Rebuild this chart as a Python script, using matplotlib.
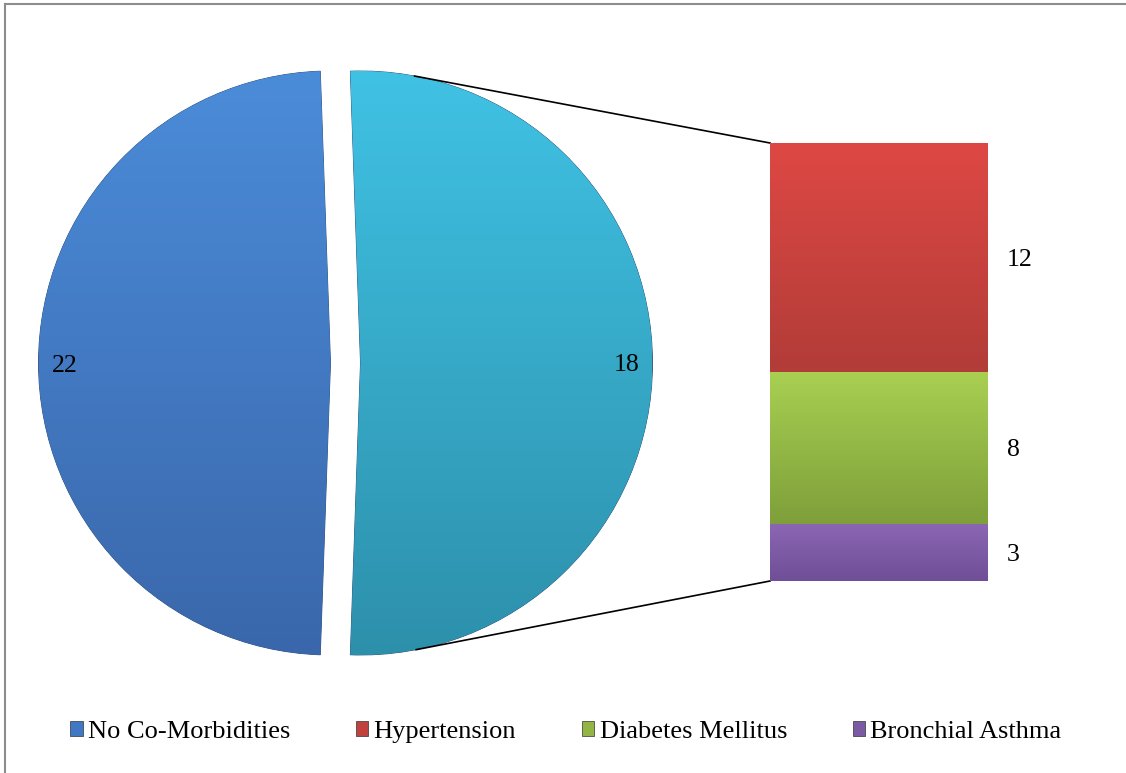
import numpy as np
import matplotlib
matplotlib.use("Agg")
import matplotlib.pyplot as plt
from matplotlib.colors import LinearSegmentedColormap
from matplotlib.patches import Patch
from matplotlib.lines import Line2D

# data
main_value = 22                     # No Co-Morbidities
main_labels = ["22", "18"]          # labels as printed on the slices
sub_categories = ["Hypertension", "Diabetes Mellitus", "Bronchial Asthma"]
sub_values = [12, 8, 3]
legend_names = ["No Co-Morbidities", "Hypertension", "Diabetes Mellitus", "Bronchial Asthma"]

pie_grads = [("#4B8CD9", "#3A67AB"), ("#40C2E4", "#2D90AB")]
bar_grads = [("#DE4844", "#B23C38"), ("#A9D052", "#7E9F3A"), ("#8C66B3", "#6F4F97")]
legend_colors = ["#3F78C4", "#C0413D", "#93B545", "#7B5AA3"]

plt.rcParams["font.family"] = ["Liberation Serif", "DejaVu Serif"]
FS = 18.5

W, H = 1126, 773
fig = plt.figure(figsize=(W / 100, H / 100), dpi=100)


def px_axes(l, t, r, b):
    return fig.add_axes([l / W, 1 - b / H, (r - l) / W, (b - t) / H])


def fill_gradient(ax, patch, extent, c_top, c_bot):
    cmap = LinearSegmentedColormap.from_list("g", [c_top, c_bot])
    grad = np.linspace(0, 1, 256).reshape(-1, 1)
    im = ax.imshow(grad, cmap=cmap, extent=extent, aspect="auto",
                   origin="upper", zorder=patch.get_zorder() + 0.1)
    im.set_clip_path(patch)


# pie part
r_px = 292
cx, cy = 345.5, 363
half = 330
ax = px_axes(cx - half, cy - half, cx + half, cy + half)
pie_vals = [main_value, sum(sub_values)]
wedges, texts = ax.pie(pie_vals, labels=main_labels, startangle=92,
                       explode=[15 / r_px, 15 / r_px], labeldistance=0.91,
                       textprops=dict(fontsize=FS))
for w, (ct, cb) in zip(wedges, pie_grads):
    w.set_facecolor(cb)
    w.set_edgecolor("#2c4f7a")
    w.set_linewidth(0.6)
    x0, y0 = w.center
    fill_gradient(ax, w, [x0 - 1, x0 + 1, y0 - 1, y0 + 1], ct, cb)
for t in texts:
    t.set_ha("center")
    t.set_va("center_baseline")
    t.set_zorder(5)
ax.set_aspect("auto")
ax.set_xlim(-half / r_px, half / r_px)
ax.set_ylim(-half / r_px, half / r_px)
ax.axis("off")

# bar part
bx0, bx1, by0, by1 = 770, 988, 143, 581
ax2 = px_axes(bx0, by0, bx1, by1)
total = sum(sub_values)
bottom = 0
order = list(zip(sub_categories, sub_values, bar_grads))[::-1]
for name, v, (ct, cb) in order:
    bar = ax2.bar(0, v, bottom=bottom, width=1, color=cb,
                  edgecolor="#555555", linewidth=0.5)[0]
    fill_gradient(ax2, bar, [-0.5, 0.5, bottom, bottom + v], ct, cb)
    ax2.text(0.5 + 19 / (bx1 - bx0), bottom + v / 2, str(v), ha="left",
             va="center_baseline", fontsize=FS)
    bottom += v
ax2.set_xlim(-0.5, 0.5)
ax2.set_ylim(0, total)
ax2.axis("off")

# connector lines, tangent to the exploded slice
other = wedges[1]
ccx, ccy = other.center
inv = ax.transData.inverted()
for corner, sign in [((-0.5, total), 1), ((-0.5, 0), -1)]:
    px, py = inv.transform(ax2.transData.transform(corner))
    d = np.hypot(px - ccx, py - ccy)
    phi = np.arctan2(py - ccy, px - ccx)
    a = phi + sign * np.arccos(1 / d)
    tx, ty = ccx + np.cos(a), ccy + np.sin(a)
    ax.plot([tx, px], [ty, py], color="black", lw=1.2, clip_on=False, zorder=6)

# legend
handles = [Patch(facecolor=c, edgecolor="#333333", linewidth=0.5) for c in legend_colors]
fig.legend(handles, legend_names, loc="center", bbox_to_anchor=(566 / W, 1 - 732 / H),
           ncol=4, frameon=False, fontsize=19, handlelength=0.46, handleheight=0.46,
           handletextpad=0.2, columnspacing=2.5, borderpad=0, borderaxespad=0)

# outer frame
fig.add_artist(Line2D([5 / W, 5 / W], [0, 1 - 4 / H], transform=fig.transFigure,
                      color="#8c8c8c", lw=1.5))
fig.add_artist(Line2D([5 / W, 1], [1 - 4 / H, 1 - 4 / H], transform=fig.transFigure,
                      color="#8c8c8c", lw=1.5))

fig.savefig("out.png", dpi=100)
plt.close(fig)
